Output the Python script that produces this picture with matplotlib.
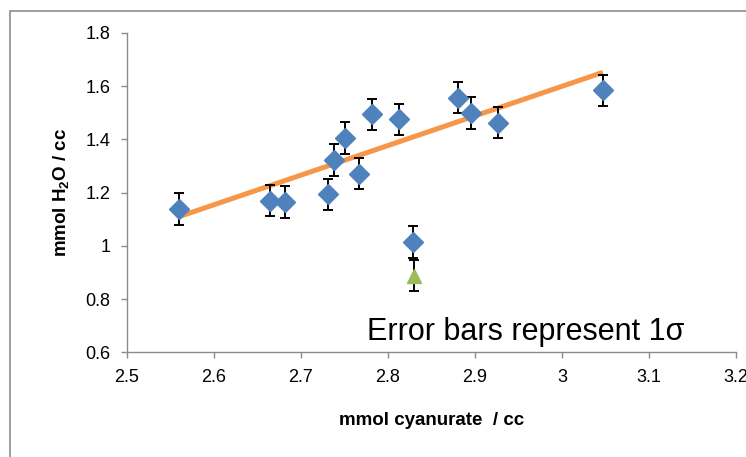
import matplotlib.pyplot as plt
from matplotlib.patches import Rectangle

plt.rcParams['font.family'] = ['Liberation Sans', 'DejaVu Sans']
plt.rcParams['mathtext.fontset'] = 'custom'
plt.rcParams['mathtext.rm'] = 'Liberation Sans:bold'
plt.rcParams['mathtext.it'] = 'Liberation Sans:bold'
plt.rcParams['mathtext.bf'] = 'Liberation Sans:bold'

# measured samples (cyanurate vs water content)
cyanurate = [2.560, 2.664, 2.682, 2.731, 2.738, 2.751, 2.767, 2.782,
             2.813, 2.829, 2.881, 2.895, 2.927, 3.047]
water = [1.139, 1.170, 1.165, 1.194, 1.323, 1.406, 1.271, 1.494,
         1.476, 1.014, 1.557, 1.499, 1.463, 1.585]
water_err = [0.059] * len(water)

# separate sample shown as triangle
extra_x = [2.830]
extra_y = [0.888]
extra_err = [0.059]

# linear trend line
trend_x = [2.560, 3.047]
trend_y = [1.110, 1.652]

fig = plt.figure(figsize=(7.46, 4.57), dpi=100)
ax = fig.add_axes([0.1702, 0.2291, 0.8164, 0.6987])

# chart area border
fig.patches.append(Rectangle((10 / 746, -0.1), 1.2, 1 - 11 / 457 + 0.1,
                             transform=fig.transFigure, fill=False,
                             edgecolor='#8c8c8c', linewidth=1.2))

ax.plot(trend_x, trend_y, color='#F79646', linewidth=3.6, solid_capstyle='butt', zorder=2)
ax.errorbar(cyanurate, water, yerr=water_err, fmt='D', color='#4F81BD',
            markersize=10, ecolor='black', elinewidth=1.4, capsize=3.8,
            capthick=1.4, zorder=3)
ax.errorbar(extra_x, extra_y, yerr=extra_err, fmt='^', color='#9BBB59',
            markersize=10.5, ecolor='black', elinewidth=1.4, capsize=3.8,
            capthick=1.4, zorder=3)

ax.set_xlim(2.5, 3.2)
ax.set_ylim(0.6, 1.8)
ax.set_xticks([2.5, 2.6, 2.7, 2.8, 2.9, 3.0, 3.1, 3.2])
ax.set_xticklabels(['2.5', '2.6', '2.7', '2.8', '2.9', '3', '3.1', '3.2'])
ax.set_yticks([0.6, 0.8, 1.0, 1.2, 1.4, 1.6, 1.8])
ax.set_yticklabels(['0.6', '0.8', '1', '1.2', '1.4', '1.6', '1.8'])

for side in ['top', 'right']:
    ax.spines[side].set_visible(False)
for side in ['left', 'bottom']:
    ax.spines[side].set_color('#8c8c8c')
    ax.spines[side].set_linewidth(1.0)
ax.tick_params(axis='both', colors='#8c8c8c', labelcolor='black',
               labelsize=13, length=4, width=1.0)
ax.tick_params(axis='x', pad=8)
ax.tick_params(axis='y', pad=8)

ax.set_xlabel('mmol cyanurate  / cc', fontsize=13.5, fontweight='bold', labelpad=19)
ax.set_ylabel(r'mmol H$_2$O / cc', fontsize=13.5, fontweight='bold', labelpad=10)

ax.text(2.776, 0.645, 'Error bars represent 1σ', fontsize=22, color='black',
        ha='left', va='baseline')

fig.savefig('out.png', dpi=100)
